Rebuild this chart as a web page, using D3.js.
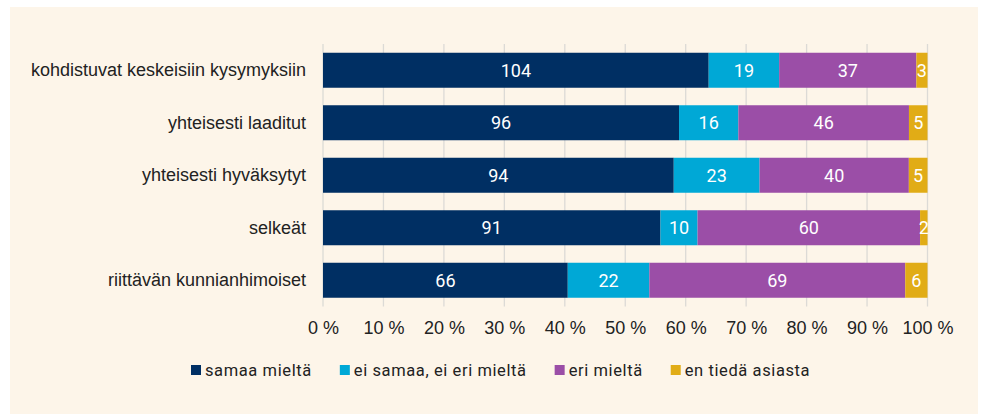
<!DOCTYPE html>
<html>
<head>
<meta charset="utf-8">
<script src="https://cdn.jsdelivr.net/npm/d3@7"></script>
<style>
  html, body { margin: 0; padding: 0; background: #ffffff; }
  svg { display: block; font-family: Roboto, "Noto Sans", sans-serif; }
</style>
</head>
<body>
<div id="chart"></div>
<script>
// kategoriat (ylhäältä alas)
const categories = [
  "kohdistuvat keskeisiin kysymyksiin",
  "yhteisesti laaditut",
  "yhteisesti hyväksytyt",
  "selkeät",
  "riittävän kunnianhimoiset"
];
const seriesNames = ["samaa mieltä", "ei samaa, ei eri mieltä", "eri mieltä", "en tiedä asiasta"];
const seriesColors = ["#002f63", "#00a8d6", "#9b4ea7", "#e1ac16"];

// vastausten lukumäärät
const samaa = [104, 96, 94, 91, 66];
const eiSamaaEiEri = [19, 16, 23, 10, 22];
const eri = [37, 46, 40, 60, 69];
const enTieda = [3, 5, 5, 2, 6];

const tickValues = [0, 0.1, 0.2, 0.3, 0.4, 0.5, 0.6, 0.7, 0.8, 0.9, 1];

const width = 982, height = 414;
const margin = { top: 44, right: 54.5, bottom: 107.5, left: 323 };

const svg = d3.select("#chart").append("svg")
  .attr("width", width)
  .attr("height", height);

// tausta
svg.append("rect")
  .attr("x", 10).attr("y", 7)
  .attr("width", 968).attr("height", 407)
  .attr("fill", "#fdf5e9");

const rows = categories.map((c, i) => {
  const vals = [samaa[i], eiSamaaEiEri[i], eri[i], enTieda[i]];
  const total = d3.sum(vals);
  let acc = 0;
  const segs = vals.map((v, k) => {
    const s = { cat: c, key: k, value: v, x0: acc / total, x1: (acc + v) / total };
    acc += v;
    return s;
  });
  return { cat: c, segs };
});

const x = d3.scaleLinear()
  .domain([0, 1])
  .range([margin.left, width - margin.right]);

const y = d3.scaleBand()
  .domain(categories)
  .range([margin.top, height - margin.bottom])
  .paddingInner(1 / 3)
  .paddingOuter(1 / 6);

// pystyviivat
svg.append("g")
  .selectAll("line")
  .data(tickValues)
  .join("line")
  .attr("x1", d => x(d)).attr("x2", d => x(d))
  .attr("y1", margin.top).attr("y2", height - margin.bottom)
  .attr("stroke", "#dcdad6")
  .attr("stroke-width", 1.3);

// x-akseli
const xAxis = d3.axisBottom(x)
  .tickValues(tickValues)
  .tickSize(0)
  .tickPadding(15)
  .tickFormat(d => Math.round(d * 100) + " %");

svg.append("g")
  .attr("transform", `translate(0,${height - margin.bottom})`)
  .call(xAxis)
  .call(g => g.select(".domain").remove())
  .selectAll("text")
  .attr("font-size", 18)
  .attr("fill", "#222");

// y-akseli
const yAxis = d3.axisLeft(y).tickSize(0).tickPadding(17);
svg.append("g")
  .attr("transform", `translate(${margin.left},0)`)
  .call(yAxis)
  .call(g => g.select(".domain").remove())
  .selectAll("text")
  .attr("font-size", 18)
  .attr("fill", "#222");

// palkit
const rowG = svg.append("g")
  .selectAll("g")
  .data(rows)
  .join("g");

rowG.selectAll("rect")
  .data(d => d.segs)
  .join("rect")
  .attr("x", d => x(d.x0))
  .attr("y", d => y(d.cat))
  .attr("width", d => x(d.x1) - x(d.x0))
  .attr("height", y.bandwidth())
  .attr("fill", d => seriesColors[d.key]);

rowG.selectAll("text")
  .data(d => d.segs)
  .join("text")
  .attr("x", d => (x(d.x0) + x(d.x1)) / 2)
  .attr("y", d => y(d.cat) + y.bandwidth() / 2)
  .attr("dy", "0.35em")
  .attr("text-anchor", "middle")
  .attr("font-size", 18)
  .attr("fill", "#ffffff")
  .text(d => d.value);

// selite
const legend = svg.append("g")
  .attr("transform", "translate(191,370)");
let lx = 0;
seriesNames.forEach((name, i) => {
  const item = legend.append("g").attr("transform", `translate(${lx},0)`);
  item.append("rect")
    .attr("x", 0).attr("y", -5)
    .attr("width", 10).attr("height", 10)
    .attr("fill", seriesColors[i]);
  const t = item.append("text")
    .attr("x", 14)
    .attr("dy", "0.35em")
    .attr("font-size", 16.5)
    .attr("letter-spacing", 0.6)
    .attr("fill", "#222")
    .text(name);
  lx += 14 + t.node().getComputedTextLength() + 28;
});
</script>
</body>
</html>
